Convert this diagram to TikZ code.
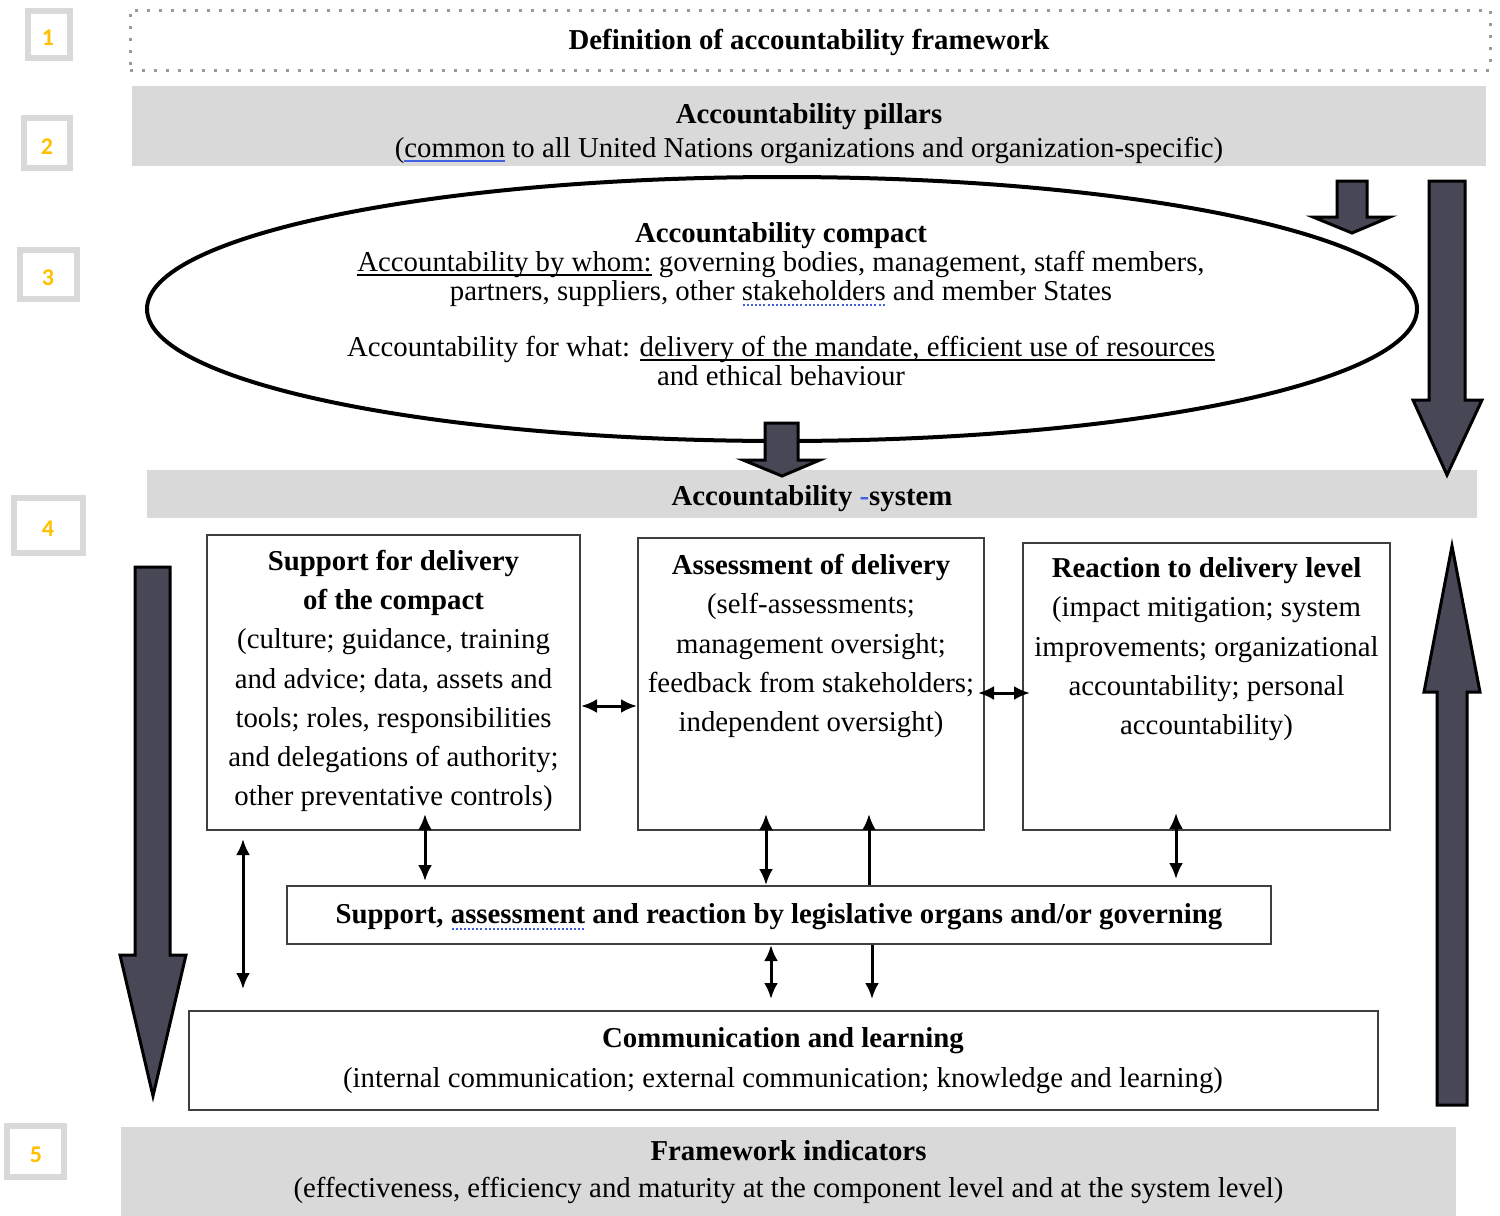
\documentclass[tikz,border=0pt]{standalone}
\usepackage{fontspec}
\setmainfont{Liberation Serif}
\newfontfamily\numfont{Carlito}
\usetikzlibrary{shapes.geometric,arrows.meta,calc}
\definecolor{bandgray}{HTML}{D9D9D9}
\definecolor{dotgray}{HTML}{9A9A9A}
\definecolor{numgold}{HTML}{FFC000}
\definecolor{arrowfill}{HTML}{474756}
\definecolor{boxline}{HTML}{3F3F3F}
\definecolor{spellblue}{HTML}{4060E0}
\newsavebox\spellbox
\newcommand\spelldots[1]{\sbox\spellbox{#1}\leavevmode\rlap{\raisebox{-6pt}[0pt][0pt]{\color{spellblue}\hbox to \wd\spellbox{\xleaders\hbox to 4pt{\hss\rule{2pt}{2pt}\hss}\hfill}}}\usebox\spellbox}
\newcommand\ulinecol[2]{\sbox\spellbox{#2}\leavevmode\rlap{\raisebox{-4.5pt}[0pt][0pt]{\color{#1}\rule{\wd\spellbox}{1.5pt}}}\usebox\spellbox}
\newcommand\spellline[1]{\ulinecol{spellblue}{#1}}
\newcommand\plainline[1]{\ulinecol{black}{#1}}
\begin{document}
\begin{tikzpicture}[x=1pt,y=-1pt,
  numbox/.style={draw=bandgray, line width=6pt, fill=white, inner sep=0pt},
  numtxt/.style={text=numgold, font=\numfont\bfseries\fontsize{24}{24}\selectfont, inner sep=0pt},
  band/.style={fill=bandgray, draw=none, inner sep=0pt},
  wbox/.style={draw=boxline, line width=2pt, fill=white, inner sep=0pt},
  txt/.style={align=center, inner sep=0pt, font=\fontsize{28.8}{39.3}\selectfont},
  blk/.style={fill=arrowfill, draw=black, line width=3pt, line join=miter},
  dbl/.style={line width=3pt, {Latex[length=16pt,width=14pt]}-{Latex[length=16pt,width=14pt]}},
  one/.style={line width=3pt, -{Latex[length=16pt,width=14pt]}}]
\useasboundingbox (0,0) rectangle (1500,1216);

% level numbers
\node[numbox, minimum width=42pt, minimum height=47pt] (n1) at (49,34.5) {};
\node[numtxt] (n1t) at (48,38) {1};
\node[numbox, minimum width=46pt, minimum height=50pt] (n2) at (47,143) {};
\node[numtxt] (n2t) at (47,147) {2};
\node[numbox, minimum width=57pt, minimum height=49pt] (n3) at (48.5,274.5) {};
\node[numtxt] (n3t) at (48,278) {3};
\node[numbox, minimum width=69pt, minimum height=55pt] (n4) at (48.5,525.5) {};
\node[numtxt] (n4t) at (48,528.5) {4};
\node[numbox, minimum width=57pt, minimum height=51pt] (n5) at (35.5,1151.5) {};
\node[numtxt] (n5t) at (36,1155) {5};

% level 1
\node[draw=dotgray, dash pattern=on 3pt off 9pt, line width=3pt, minimum width=1360pt, minimum height=60pt, inner sep=0pt] (f1) at (810,40) {};
\node[txt, font=\fontsize{28.8}{39.3}\selectfont\bfseries] (f1t) at (809,42) {Definition of accountability framework};

% level 2
\node[band, minimum width=1354pt, minimum height=80pt] (b2) at (809,126) {};
\node[txt, font=\fontsize{28.8}{34}\selectfont] (b2t) at (809,133.5) {\textbf{Accountability pillars}\\(\spellline{common} to all United Nations organizations and organization-specific)};

% level 3
\node[ellipse, draw, line width=4pt, minimum width=1270pt, minimum height=264pt, inner sep=0pt] (ell) at (782,309) {};
\node[txt, font=\fontsize{28.8}{29}\selectfont] (ellt) at (781,304) {\textbf{Accountability compact}\\\plainline{Accountability by whom:} governing bodies, management, staff members,\\partners, suppliers, other \spelldots{stakeholders} and member States\\[27pt]Accountability for what: \plainline{delivery of the mandate, efficient use of resources}\\and ethical behaviour};

% level 4
\node[band, minimum width=1330pt, minimum height=48pt] (b4) at (812,494) {};
\node[txt, font=\fontsize{28.8}{34}\selectfont\bfseries] (b4t) at (812,499) {Accountability \textcolor{spellblue}{-}system};

\node[wbox, minimum width=373pt, minimum height=295pt] (A) at (393.5,682.5) {};
\node[txt] (At) at (393.5,681) {\textbf{Support for delivery}\\\textbf{of the compact}\\(culture; guidance, training\\and advice; data, assets and\\tools; roles, responsibilities\\and delegations of authority;\\other preventative controls)};

\node[wbox, minimum width=346pt, minimum height=292pt] (B) at (811,684) {};
\node[txt, anchor=north] (Bt) at ($(B.north)+(0,17)$) {\textbf{Assessment of delivery}\\(self-assessments;\\management oversight;\\feedback from stakeholders;\\independent oversight)};

\node[wbox, minimum width=367pt, minimum height=287pt] (C) at (1206.5,686.5) {};
\node[txt, anchor=north] (Ct) at ($(C.north)+(0,15.5)$) {\textbf{Reaction to delivery level}\\(impact mitigation; system\\improvements; organizational\\accountability; personal\\accountability)};

\node[wbox, minimum width=984pt, minimum height=58pt] (D) at (779,915) {};
\node[txt, font=\fontsize{28.8}{39.3}\selectfont\bfseries] (Dt) at (779,917) {Support, \spelldots{assessment} and reaction by legislative organs and/or governing};

\node[wbox, minimum width=1189pt, minimum height=99pt] (E) at (783.5,1060.5) {};
\node[txt, font=\fontsize{28.8}{40}\selectfont] (Et) at (783,1061) {\textbf{Communication and learning}\\(internal communication; external communication; knowledge and learning)};

% level 5
\node[band, minimum width=1335pt, minimum height=89pt] (b5) at (788.5,1171.5) {};
\node[txt, font=\fontsize{28.8}{37}\selectfont] (b5t) at (788.5,1172.5) {\textbf{Framework indicators}\\(effectiveness, efficiency and maturity at the component level and at the system level)};

% block arrows
\draw[blk] (1337,181) -- (1367,181) -- (1367,217) -- (1390,217) -- (1352,233) -- (1313,217) -- (1337,217) -- cycle;
\draw[blk] (1429,181) -- (1465,181) -- (1465,400) -- (1482,400) -- (1447,475) -- (1413,400) -- (1429,400) -- cycle;
\draw[blk] (765,423) -- (798,423) -- (798,460) -- (820,460) -- (782,476) -- (743,460) -- (765,460) -- cycle;
\draw[blk] (135,567) -- (170,567) -- (170,955) -- (186,955) -- (153,1096) -- (120,955) -- (135,955) -- cycle;
\draw[blk] (1437,1105) -- (1467,1105) -- (1467,692) -- (1480,692) -- (1452,546) -- (1424,692) -- (1437,692) -- cycle;

% connectors
\coordinate (hAB) at (0,706);
\coordinate (hBC) at (0,693);
\coordinate (vA) at (425,0);
\coordinate (vL) at (243,0);
\coordinate (vB1) at (766,0);
\coordinate (vB2) at (869,0);
\coordinate (vC) at (1176,0);
\coordinate (vE1) at (771,0);
\coordinate (vE2) at (872,0);

\draw[dbl] (A.east |- hAB) -- (B.west |- hAB);
\draw[dbl] ($(B.east |- hBC)+(-7,0)$) -- ($(C.west |- hBC)+(8,0)$);
\draw[dbl] ($(A.south -| vA)+(0,-17)$) -- ($(D.north -| vA)+(0,-4)$);
\draw[dbl] ($(A.south -| vL)+(0,8)$) -- ($(E.north -| vL)+(0,-21)$);
\draw[dbl] ($(B.south -| vB1)+(0,-17)$) -- (D.north -| vB1);
\draw[one] (D.north -| vB2) -- ($(B.south -| vB2)+(0,-17)$);
\draw[dbl] ($(C.south -| vC)+(0,-18)$) -- ($(D.north -| vC)+(0,-6)$);
\draw[dbl] (D.south -| vE1) -- ($(E.north -| vE1)+(0,-11)$);
\draw[one] (D.south -| vE2) -- ($(E.north -| vE2)+(0,-11)$);
\end{tikzpicture}
\end{document}
